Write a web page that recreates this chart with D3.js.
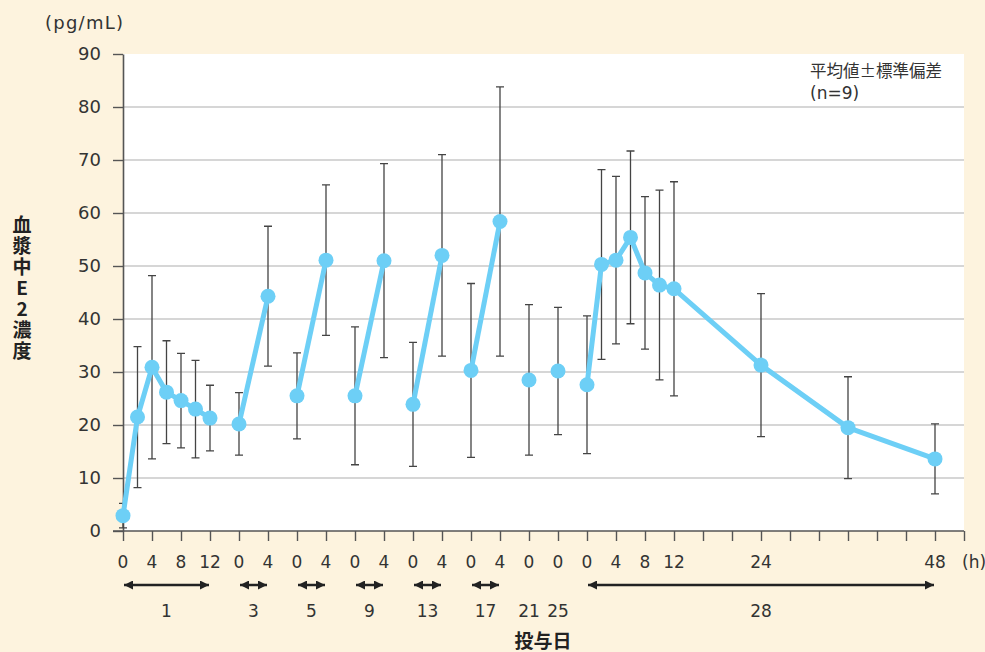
<!DOCTYPE html>
<html>
<head>
<meta charset="utf-8">
<script src="https://cdn.jsdelivr.net/npm/d3@7"></script>
<style>
  body { margin: 0; background: #fdf3de; }
  svg { display: block; font-family: "Noto Sans CJK JP", "Noto Sans", sans-serif; }
</style>
</head>
<body>
<svg id="chart"></svg>
<script>
const width = 985,
    height = 652;

// 投与日と各日の採血時間 (h)
const days = [1, 3, 5, 9, 13, 17, 21, 25, 28];
const hours = [
    [0, 2, 4, 6, 8, 10, 12],
    [0, 4], [0, 4], [0, 4], [0, 4], [0, 4],
    [0], [0],
    [0, 2, 4, 6, 8, 10, 12, 24, 36, 48]
];
const means = [
    [2.9, 21.5, 30.9, 26.2, 24.6, 23.0, 21.3],
    [20.2, 44.3], [25.5, 51.1], [25.5, 51.0], [23.9, 52.0], [30.3, 58.4],
    [28.5], [30.2],
    [27.6, 50.3, 51.1, 55.4, 48.7, 46.4, 45.7, 31.3, 19.5, 13.6]
];
const sds = [
    [2.3, 13.3, 17.3, 9.7, 8.9, 9.2, 6.2],
    [5.9, 13.2], [8.1, 14.2], [13.0, 18.3], [11.7, 19.0], [16.4, 25.4],
    [14.2], [12.0],
    [13.0, 17.9, 15.8, 16.3, 14.4, 17.9, 20.2, 13.5, 9.6, 6.6]
];
const hourTicks = [
    [0, 4, 8, 12],
    [0, 4], [0, 4], [0, 4], [0, 4], [0, 4],
    [0], [0],
    [0, 4, 8, 12, 24, 48]
];
const yTicks = [0, 10, 20, 30, 40, 50, 60, 70, 80, 90];

const plotLeft = 123, plotRight = 964, plotTop = 54, plotBottom = 531;
const lineColor = "#6dcff6";
const inkColor = "#333";

// each group takes (max hour / 4 + 1) slots of 4h
const groups = days.map((day, i) => ({ day, i, span: d3.max(hours[i]) / 4 }));
let acc = 0;
groups.forEach(g => { g.offset = acc; acc += g.span + 1; });
const totalSlots = acc;

const x = d3.scaleLinear().domain([0, totalSlots]).range([plotLeft, plotRight]);
const y = d3.scaleLinear().domain([0, 90]).range([plotBottom, plotTop]);

const svg = d3.select("svg#chart")
    .attr("width", width)
    .attr("height", height);

svg.append("defs").append("marker")
    .attr("id", "head")
    .attr("viewBox", "0 -5 10 10")
    .attr("refX", 10)
    .attr("refY", 0)
    .attr("markerWidth", 3.6)
    .attr("markerHeight", 3.6)
    .attr("orient", "auto-start-reverse")
    .append("path")
    .attr("d", "M0,-5L10,0L0,5Z")
    .attr("fill", "#222");

// plot background
svg.append("rect")
    .attr("x", plotLeft)
    .attr("y", plotTop)
    .attr("width", plotRight - plotLeft)
    .attr("height", plotBottom - plotTop)
    .attr("fill", "#fff");

// grid
svg.append("g")
    .selectAll("line")
    .data(yTicks.filter(v => v > 0 && v < 90))
    .enter()
    .append("line")
    .attr("x1", plotLeft)
    .attr("x2", plotRight)
    .attr("y1", d => y(d))
    .attr("y2", d => y(d))
    .attr("stroke", "#c9c9c9")
    .attr("stroke-width", 1.5);

// axes
const yAxis = svg.append("g")
    .attr("transform", `translate(${plotLeft},0)`)
    .call(d3.axisLeft(y).tickValues(yTicks).tickSize(10).tickSizeOuter(0).tickPadding(12));
const xAxis = svg.append("g")
    .attr("transform", `translate(0,${plotBottom})`)
    .call(d3.axisBottom(x).tickValues(d3.range(0, totalSlots + 1)).tickSize(10).tickSizeOuter(0).tickFormat(""));
[yAxis, xAxis].forEach(a => {
    a.selectAll("path.domain").attr("stroke", "#555").attr("stroke-width", 1.6);
    a.selectAll(".tick line").attr("stroke", "#555").attr("stroke-width", 1.4);
});
yAxis.selectAll(".tick text")
    .attr("font-size", 18)
    .attr("fill", inkColor)
    .attr("font-family", "DejaVu Sans, sans-serif");
// x axis line also runs under the y ticks
xAxis.select("path.domain").attr("d", `M${plotLeft - 10},0H${plotRight}`);

// hour labels
const hourLabels = [];
groups.forEach(g => hourTicks[g.i].forEach(h => hourLabels.push({ h, pos: g.offset + h / 4 })));
svg.append("g")
    .selectAll("text")
    .data(hourLabels)
    .enter()
    .append("text")
    .attr("x", d => x(d.pos))
    .attr("y", 568)
    .attr("text-anchor", "middle")
    .attr("font-size", 17)
    .attr("font-family", "DejaVu Sans, sans-serif")
    .attr("fill", inkColor)
    .text(d => d.h);
svg.append("text")
    .attr("x", 962)
    .attr("y", 568)
    .attr("font-size", 17)
    .attr("font-family", "DejaVu Sans, sans-serif")
    .attr("fill", inkColor)
    .text("(h)");

// day arrows and labels
svg.append("g")
    .selectAll("line")
    .data(groups.filter(g => g.span > 0))
    .enter()
    .append("line")
    .attr("x1", g => x(g.offset) + 1)
    .attr("x2", g => x(g.offset + g.span) - 1)
    .attr("y1", 585)
    .attr("y2", 585)
    .attr("stroke", "#222")
    .attr("stroke-width", 2.5)
    .attr("marker-start", "url(#head)")
    .attr("marker-end", "url(#head)");
svg.append("g")
    .selectAll("text")
    .data(groups)
    .enter()
    .append("text")
    .attr("x", g => x(g.offset + g.span / 2))
    .attr("y", 617)
    .attr("text-anchor", "middle")
    .attr("font-size", 17)
    .attr("font-family", "DejaVu Sans, sans-serif")
    .attr("fill", inkColor)
    .text(g => g.day);

svg.append("text")
    .attr("x", 543)
    .attr("y", 648)
    .attr("text-anchor", "middle")
    .attr("font-size", 19)
    .attr("font-weight", "bold")
    .attr("fill", "#222")
    .text("投与日");

// y title, vertical upright
svg.append("text")
    .attr("x", 22)
    .attr("y", 215)
    .style("writing-mode", "vertical-rl")
    .style("text-orientation", "upright")
    .style("letter-spacing", "2px")
    .attr("font-size", 19)
    .attr("font-weight", "bold")
    .attr("fill", "#222")
    .text("血漿中E2濃度");

svg.append("text")
    .attr("x", 45)
    .attr("y", 29)
    .attr("font-size", 18)
    .attr("textLength", 78)
    .attr("font-family", "DejaVu Sans, sans-serif")
    .attr("fill", inkColor)
    .text("(pg/mL)");

svg.append("text")
    .attr("x", 810)
    .attr("y", 77)
    .attr("font-size", 16.5)
    .attr("fill", inkColor)
    .text("平均値±標準偏差");
svg.append("text")
    .attr("x", 810)
    .attr("y", 99)
    .attr("font-size", 17)
    .attr("font-family", "DejaVu Sans, sans-serif")
    .attr("fill", inkColor)
    .text("(n=9)");

// points
const points = groups.map(g => hours[g.i].map((h, j) => ({
    pos: g.offset + h / 4,
    mean: means[g.i][j],
    sd: sds[g.i][j]
})));
const flat = points.flat();

const err = svg.append("g")
    .attr("stroke", "#444")
    .attr("stroke-width", 1.3);
err.selectAll("path")
    .data(flat)
    .enter()
    .append("path")
    .attr("fill", "none")
    .attr("d", d => {
        const cx = x(d.pos), y1 = y(d.mean + d.sd), y0 = y(Math.max(0, d.mean - d.sd));
        return `M${cx - 4},${y1}H${cx + 4}M${cx},${y1}V${y0}M${cx - 4},${y0}H${cx + 4}`;
    });

const line = d3.line().x(d => x(d.pos)).y(d => y(d.mean));
svg.append("g")
    .selectAll("path")
    .data(points.filter(p => p.length > 1))
    .enter()
    .append("path")
    .attr("d", line)
    .attr("fill", "none")
    .attr("stroke", lineColor)
    .attr("stroke-width", 5)
    .attr("stroke-linejoin", "round");

svg.append("g")
    .selectAll("circle")
    .data(flat)
    .enter()
    .append("circle")
    .attr("cx", d => x(d.pos))
    .attr("cy", d => y(d.mean))
    .attr("r", 7.5)
    .attr("fill", lineColor);
</script>
</body>
</html>
